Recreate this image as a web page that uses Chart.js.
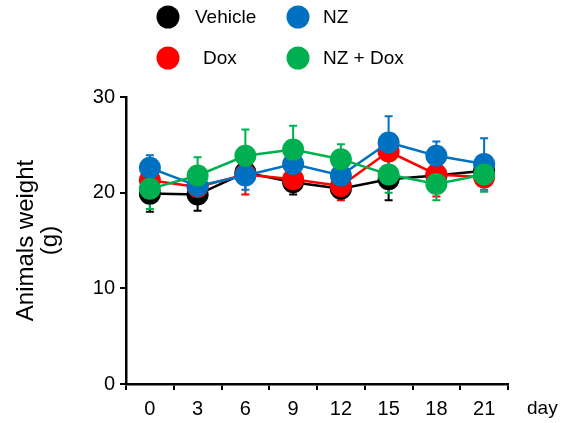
<!DOCTYPE html>
<html>
<head>
<meta charset="utf-8">
<script src="https://cdn.jsdelivr.net/npm/chart.js@4"></script>
<style>
  body { margin: 0; background: #fff; }
</style>
</head>
<body>
<canvas id="weightChart" width="563" height="423"></canvas>
<script>
// Données (poids moyen en g, écart-type)
var days = ['0', '3', '6', '9', '12', '15', '18', '21'];
var yTicks = [0, 10, 20, 30];

var vehicle    = [19.9, 19.8, 22.1, 21.1, 20.4, 21.4, 21.8, 22.3];
var vehicleErr = [1.9, 1.7, 1.0, 1.3, 0.8, 2.2, 1.0, 0.8];
var dox        = [21.3, 20.6, 21.9, 21.4, 20.7, 24.3, 21.9, 21.6];
var doxErr     = [0.8, 0.6, 2.1, 1.0, 1.5, 1.0, 2.3, 1.0];
var nz         = [22.6, 20.7, 21.8, 23.0, 21.8, 25.25, 23.85, 23.0];
var nzErr      = [1.3, 0.8, 1.5, 1.0, 0.8, 2.75, 1.5, 2.7];
var nzDox      = [20.4, 21.8, 23.85, 24.5, 23.5, 21.9, 20.9, 21.9];
var nzDoxErr   = [2.1, 1.9, 2.75, 2.5, 1.55, 1.9, 1.7, 1.8];

var colors = { vehicle: '#000000', dox: '#ff0000', nz: '#0070c0', nzDox: '#00b050' };
var FONT = '"Liberation Sans", Arial, sans-serif';

function serie(label, data, err, color, order) {
    return {
        label: label,
        data: data,
        err: err,
        borderColor: color,
        backgroundColor: color,
        pointBackgroundColor: color,
        pointBorderColor: color,
        pointRadius: 11,
        pointBorderWidth: 0,
        borderWidth: 2.5,
        tension: 0,
        order: order
    };
}

// Barres d'erreur (sous les marqueurs)
var errorBars = {
    id: 'errorBars',
    beforeDatasetsDraw: function(chart) {
        var ctx = chart.ctx;
        var y = chart.scales.y;
        chart.data.datasets.forEach(function(ds, i) {
            var meta = chart.getDatasetMeta(i);
            ctx.save();
            ctx.strokeStyle = ds.borderColor;
            ctx.lineWidth = 2;
            meta.data.forEach(function(pt, j) {
                var top = y.getPixelForValue(ds.data[j] + ds.err[j]);
                var bot = y.getPixelForValue(ds.data[j] - ds.err[j]);
                ctx.beginPath();
                ctx.moveTo(pt.x, top); ctx.lineTo(pt.x, bot);
                ctx.moveTo(pt.x - 4, top); ctx.lineTo(pt.x + 4, top);
                ctx.moveTo(pt.x - 4, bot); ctx.lineTo(pt.x + 4, bot);
                ctx.stroke();
            });
            ctx.restore();
        });
    }
};

// Légende en 2 x 2 et libellé "day"
var extras = {
    id: 'extras',
    afterDraw: function(chart) {
        var ctx = chart.ctx;
        var items = [
            { t: 'Vehicle', c: colors.vehicle, x: 168, y: 17, tx: 195 },
            { t: 'NZ', c: colors.nz, x: 298, y: 17, tx: 323 },
            { t: 'Dox', c: colors.dox, x: 168, y: 58, tx: 203 },
            { t: 'NZ + Dox', c: colors.nzDox, x: 298, y: 58, tx: 323 }
        ];
        ctx.save();
        ctx.font = '19px ' + FONT;
        ctx.textBaseline = 'middle';
        items.forEach(function(it) {
            ctx.fillStyle = it.c;
            ctx.beginPath();
            ctx.arc(it.x, it.y, 11.5, 0, Math.PI * 2);
            ctx.fill();
            ctx.fillStyle = '#000';
            ctx.fillText(it.t, it.tx, it.y + 1);
        });
        ctx.font = '19px ' + FONT;
        ctx.fillText('day', 527, 409);
        ctx.restore();
    }
};

var ctx = document.getElementById('weightChart').getContext('2d');
var weightChart = new Chart(ctx, {
    type: 'line',
    data: {
        labels: days,
        datasets: [
            serie('Vehicle', vehicle, vehicleErr, colors.vehicle, 3),
            serie('Dox', dox, doxErr, colors.dox, 2),
            serie('NZ', nz, nzErr, colors.nz, 1),
            serie('NZ + Dox', nzDox, nzDoxErr, colors.nzDox, 0)
        ]
    },
    options: {
        responsive: false,
        devicePixelRatio: 1,
        animation: false,
        layout: { padding: { top: 97, right: 55, left: 0, bottom: 0 } },
        plugins: {
            legend: { display: false },
            tooltip: { enabled: false }
        },
        scales: {
            x: {
                type: 'category',
                offset: true,
                grid: { offset: true, drawOnChartArea: false, drawTicks: true, tickLength: 6, color: '#000', lineWidth: 2 },
                border: { color: '#000', width: 2.5 },
                ticks: { color: '#000', font: { family: FONT, size: 20 }, padding: 7, maxRotation: 0 },
                afterFit: function(s) { s.height = 39; }
            },
            y: {
                min: 0,
                max: 30,
                afterBuildTicks: function(s) { s.ticks = yTicks.map(function(v) { return { value: v }; }); },
                grid: { drawOnChartArea: false, drawTicks: true, tickLength: 6, color: '#000', lineWidth: 2 },
                border: { color: '#000', width: 2.5 },
                ticks: { color: '#000', font: { family: FONT, size: 20 }, padding: 5 },
                title: {
                    display: true,
                    text: ['Animals weight', '(g)'],
                    color: '#000',
                    font: { family: FONT, size: 24, lineHeight: 1.0 },
                    padding: { top: 14, bottom: 0 }
                },
                afterFit: function(s) { s.width = 126; }
            }
        }
    },
    plugins: [errorBars, extras]
});
</script>
</body>
</html>
